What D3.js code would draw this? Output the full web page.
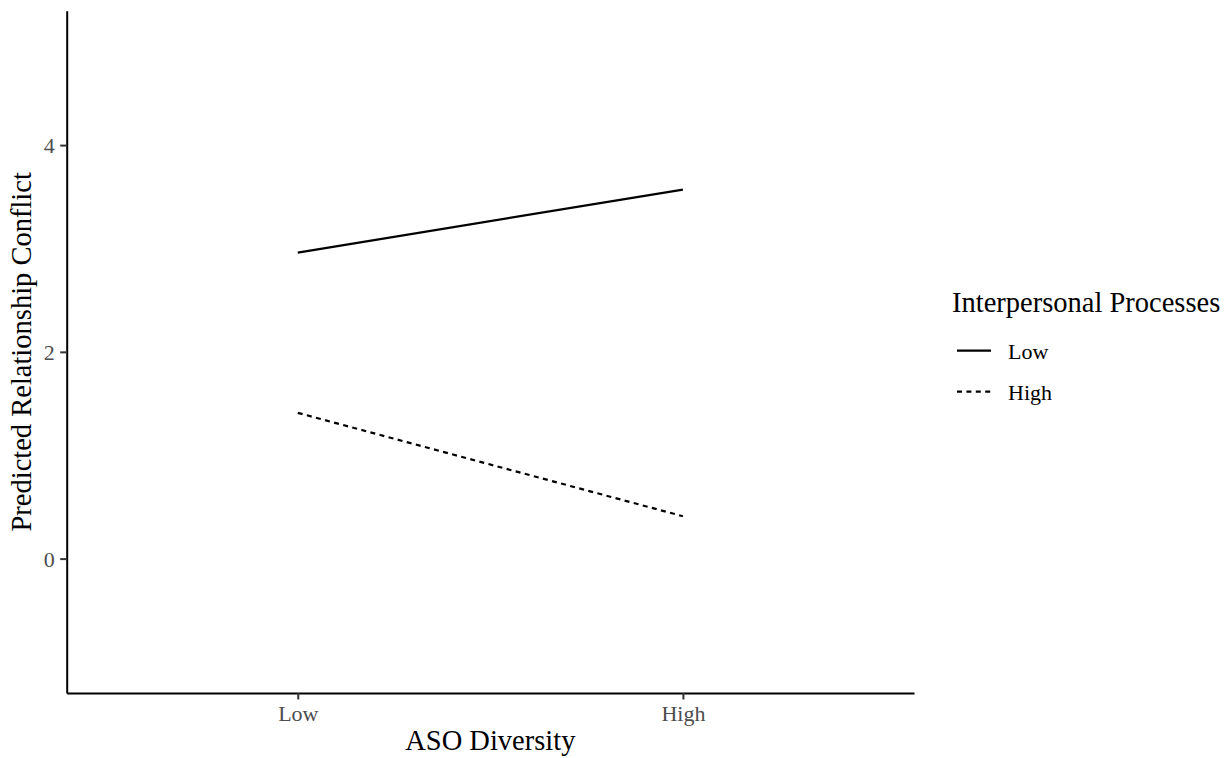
<!DOCTYPE html>
<html>
<head>
<meta charset="utf-8">
<script src="https://cdn.jsdelivr.net/npm/d3@7"></script>
<style>
  body { margin: 0; background: #fff; }
  svg { display: block; font-family: "Liberation Serif", "Times New Roman", serif; }
</style>
</head>
<body>
<svg width="1226" height="758"></svg>
<script>
// data
var diversityLevels = ["Low", "High"];
var processLevels = ["Low", "High"];
var lowProcessValues = [2.96, 3.57];
var highProcessValues = [1.41, 0.41];
var yTicks = [0, 2, 4];

var svg = d3.select("svg");

// panel edges (plain names like "top" clash with window.top)
var panel = { left: 66.7, right: 914, top: 10.7, bottom: 693 };

var x = d3.scalePoint()
  .domain(diversityLevels)
  .range([panel.left, panel.right])
  .padding(0.6);

var y = d3.scaleLinear()
  .domain([-1.3, 5.3])
  .range([panel.bottom, panel.top]);

var dashes = { "Low": null, "High": "5,4.4" };

var series = processLevels.map(function(p, i) {
  var vals = i === 0 ? lowProcessValues : highProcessValues;
  return {
    name: p,
    points: diversityLevels.map(function(d, j) { return { x: d, y: vals[j] }; })
  };
});

var line = d3.line()
  .x(function(d) { return x(d.x); })
  .y(function(d) { return y(d.y); });

svg.append("g")
  .selectAll("path")
  .data(series)
  .enter().append("path")
  .attr("d", function(d) { return line(d.points); })
  .attr("fill", "none")
  .attr("stroke", "#000")
  .attr("stroke-width", 2.2)
  .attr("stroke-dasharray", function(d) { return dashes[d.name]; });

// axes
var xAxis = svg.append("g")
  .attr("transform", "translate(0," + panel.bottom + ")")
  .call(d3.axisBottom(x).tickSizeInner(6.5).tickSizeOuter(0).tickPadding(6));

var yAxis = svg.append("g")
  .attr("transform", "translate(" + panel.left + ",0)")
  .call(d3.axisLeft(y).tickValues(yTicks).tickFormat(d3.format("d"))
    .tickSizeInner(6.5).tickSizeOuter(0).tickPadding(5.5));

[xAxis, yAxis].forEach(function(a) {
  a.select(".domain").attr("stroke", "#000").attr("stroke-width", 2);
  a.selectAll(".tick line").attr("stroke", "#333").attr("stroke-width", 2);
  a.selectAll(".tick text")
    .attr("fill", "#4d4d4d")
    .style("font-family", "Liberation Serif, serif")
    .style("font-size", "22px");
});
xAxis.selectAll(".tick text").attr("dy", null).attr("y", 28);
yAxis.selectAll(".tick text").attr("dy", "0.34em");

// axis titles
svg.append("text")
  .attr("x", (panel.left + panel.right) / 2)
  .attr("y", 750)
  .attr("text-anchor", "middle")
  .style("font-size", "28.5px")
  .text("ASO Diversity");

svg.append("text")
  .attr("transform", "translate(31," + ((panel.top + panel.bottom) / 2) + ") rotate(-90)")
  .attr("text-anchor", "middle")
  .style("font-size", "28.5px")
  .text("Predicted Relationship Conflict");

// legend
var legend = svg.append("g");

legend.append("text")
  .attr("x", 952)
  .attr("y", 312)
  .style("font-size", "28.5px")
  .text("Interpersonal Processes");

var item = legend.selectAll("g.item")
  .data(processLevels)
  .enter().append("g")
  .attr("class", "item")
  .attr("transform", function(d, i) { return "translate(0," + (350.7 + i * 41) + ")"; });

item.append("line")
  .attr("x1", 957).attr("x2", 991)
  .attr("y1", 0).attr("y2", 0)
  .attr("stroke", "#000")
  .attr("stroke-width", 2.2)
  .attr("stroke-dasharray", function(d) { return dashes[d]; });

item.append("text")
  .attr("x", 1008)
  .attr("y", 8)
  .style("font-size", "22px")
  .text(function(d) { return d; });
</script>
</body>
</html>
